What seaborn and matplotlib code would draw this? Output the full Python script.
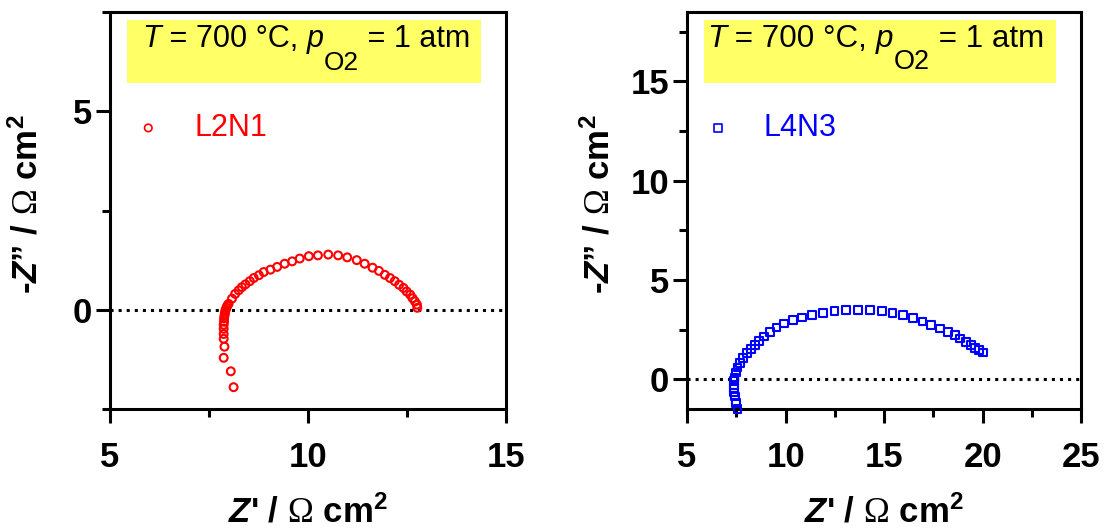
import numpy as np
import pandas as pd
import matplotlib
matplotlib.use("Agg")
import matplotlib.pyplot as plt
from matplotlib.patches import Rectangle
import seaborn as sns

# ---- data: L2N1 (left) ----
l2n1_zre = [8.12, 8.05, 7.87, 7.89, 7.87, 7.87, 7.87, 7.87, 7.88, 7.88, 7.89, 7.90,
            7.91, 7.92, 7.94, 7.96, 7.995, 8.08, 8.16, 8.25, 8.33, 8.42, 8.53, 8.63,
            8.76, 8.88, 9.05, 9.22, 9.41, 9.60, 9.79, 10.02, 10.25, 10.51, 10.76, 10.99,
            11.23, 11.43, 11.63, 11.79, 11.94, 12.07, 12.19, 12.30, 12.41, 12.49, 12.58,
            12.64, 12.70, 12.75, 12.76]
l2n1_zim = [-1.95, -1.55, -1.21, -0.93, -0.73, -0.61, -0.48, -0.38, -0.30, -0.22, -0.15, -0.09,
            -0.04, 0.00, 0.05, 0.10, 0.15, 0.28, 0.40, 0.49, 0.57, 0.64, 0.72, 0.80,
            0.87, 0.95, 1.01, 1.08, 1.16, 1.22, 1.29, 1.35, 1.37, 1.39, 1.37, 1.32,
            1.25, 1.16, 1.06, 0.98, 0.88, 0.80, 0.72, 0.63, 0.55, 0.46, 0.38,
            0.29, 0.21, 0.13, 0.05]

# ---- data: L4N3 (right) ----
l4n3_zre = [7.56, 7.47, 7.42, 7.40, 7.39, 7.39, 7.40, 7.41, 7.47, 7.56, 7.69, 7.86,
            8.03, 8.23, 8.43, 8.65, 8.90, 9.20, 9.54, 9.94, 10.38, 10.83, 11.34, 11.89,
            12.48, 13.07, 13.66, 14.28, 14.87, 15.42, 15.96, 16.46, 16.94, 17.39, 17.81,
            18.23, 18.57, 18.85, 19.16, 19.41, 19.62, 19.79, 19.99]
l4n3_zim = [-1.52, -1.18, -0.87, -0.67, -0.42, -0.27, -0.10, 0.08, 0.34, 0.59, 0.84, 1.09,
            1.31, 1.52, 1.72, 1.94, 2.15, 2.39, 2.61, 2.81, 3.00, 3.11, 3.23, 3.33,
            3.42, 3.48, 3.50, 3.48, 3.43, 3.33, 3.23, 3.10, 2.91, 2.73, 2.56,
            2.39, 2.22, 2.05, 1.88, 1.73, 1.58, 1.46, 1.35]

left_xticks = [5, 10, 15]
left_yticks = [0, 5]
right_xticks = [5, 10, 15, 20, 25]
right_yticks = [0, 5, 10, 15]

xlabel = r"$\mathbfit{Z}$' / $\mathsf{Ω}$ cm$^{\mathbf{2}}$"
ylabel = r"-$\mathbfit{Z}$” / $\mathsf{Ω}$ cm$^{\mathbf{2}}$"

sns.set_style("ticks")
plt.rcParams["font.family"] = ["Liberation Sans", "DejaVu Sans"]
plt.rcParams["mathtext.fontset"] = "custom"
plt.rcParams["mathtext.rm"] = "Liberation Sans"
plt.rcParams["mathtext.it"] = "Liberation Sans:italic"
plt.rcParams["mathtext.bf"] = "Liberation Sans:bold"
plt.rcParams["mathtext.bfit"] = "Liberation Sans:bold:italic"
plt.rcParams["mathtext.sf"] = "Liberation Serif"
for k in ["text.color", "axes.labelcolor", "xtick.color", "ytick.color", "axes.edgecolor"]:
    plt.rcParams[k] = "black"

fig = plt.figure(figsize=(11.08, 5.29), dpi=100)
ax1 = fig.add_axes([0.0993, 0.2268, 0.3574, 0.7505])
ax2 = fig.add_axes([0.6200, 0.2268, 0.3560, 0.7505])

df1 = pd.DataFrame({"x": l2n1_zre, "y": l2n1_zim})
df2 = pd.DataFrame({"x": l4n3_zre, "y": l4n3_zim})

specs = [
    (ax1, df1, "o", "#ff0000", "L2N1", (5, 15), (-2.5, 7.5), left_xticks, left_yticks,
     [7.5, 12.5], [-2.5, 2.5, 7.5], -0.165, 0.081, 22.0, 0.058),
    (ax2, df2, "s", "#0000ff", "L4N3", (5, 25), (-1.5, 18.5), right_xticks, right_yticks,
     [7.5, 12.5, 17.5, 22.5], [2.5, 7.5, 12.5, 17.5], -0.178, 0.051, 22.6, 0.04),
]


def condition_text(ax, x0, fs):
    fs_sub, drop = fs * 0.86, 15.0
    t1 = ax.text(x0, 0.912, "T", transform=ax.transAxes, fontsize=fs, style="italic",
                 ha="left", va="baseline", zorder=4)
    t2 = ax.annotate(" = 700 °C, ", xy=(1, 0), xycoords=t1, va="bottom", ha="left",
                     fontsize=fs, zorder=4)
    t3 = ax.annotate("p", xy=(1, 0), xycoords=t2, va="bottom", ha="left",
                     fontsize=fs, style="italic", zorder=4)
    t4 = ax.annotate("O2", xy=(1, 0), xycoords=t3, xytext=(0.5, -drop),
                     textcoords="offset points", va="bottom", ha="left",
                     fontsize=fs_sub, zorder=4)
    ax.annotate(" = 1 atm", xy=(1, 0), xycoords=(t4, t3), va="bottom", ha="left",
                fontsize=fs, zorder=4)


for (ax, df, mk, col, lab, xl, yl, xt, yt, xmin_t, ymin_t, ylx, tx, tfs, lgx) in specs:
    ax.axhline(0, color="black", ls=":", lw=2.2, zorder=1)
    sns.scatterplot(data=df, x="x", y="y", marker=mk, s=32, ax=ax, label=lab,
                    legend=False, clip_on=False, zorder=3)
    pts = ax.collections[-1]
    pts.set_facecolor("none")
    pts.set_edgecolor(col)
    pts.set_linewidth(1.5)

    ax.set_xlim(*xl)
    ax.set_ylim(*yl)
    ax.set_xticks(xt)
    ax.set_xticks(xmin_t, minor=True)
    ax.set_yticks(yt)
    ax.set_yticks(ymin_t, minor=True)

    for s in ax.spines.values():
        s.set_linewidth(2.2)
        s.set_color("black")
    ax.tick_params(which="major", length=10, width=2.2, labelsize=25, colors="black")
    ax.tick_params(axis="x", which="major", pad=13)
    ax.tick_params(axis="y", which="major", pad=3)
    ax.tick_params(which="minor", length=6, width=2.2)
    for t in ax.get_xticklabels() + ax.get_yticklabels():
        t.set_fontweight("bold")

    ax.set_xlabel(xlabel, fontsize=25, fontweight="bold")
    ax.xaxis.set_label_coords(0.5, -0.215)
    ax.set_ylabel(ylabel, fontsize=25, fontweight="bold")
    ax.yaxis.set_label_coords(ylx, 0.515)

    ax.add_patch(Rectangle((0.043, 0.821), 0.893, 0.159, transform=ax.transAxes,
                           facecolor="#ffff66", edgecolor="none", zorder=2))
    condition_text(ax, tx, tfs)

    leg = ax.legend(loc="center left", bbox_to_anchor=(lgx, 0.708),
                    frameon=False, fontsize=22, markerscale=0.95, handlelength=1.0,
                    handletextpad=1.0, borderpad=0, borderaxespad=0)
    for t in leg.get_texts():
        t.set_color(col)
    for h in leg.legend_handles:
        h.set_linewidth(1.2)

fig.savefig("out.png", dpi=100, facecolor="white")
